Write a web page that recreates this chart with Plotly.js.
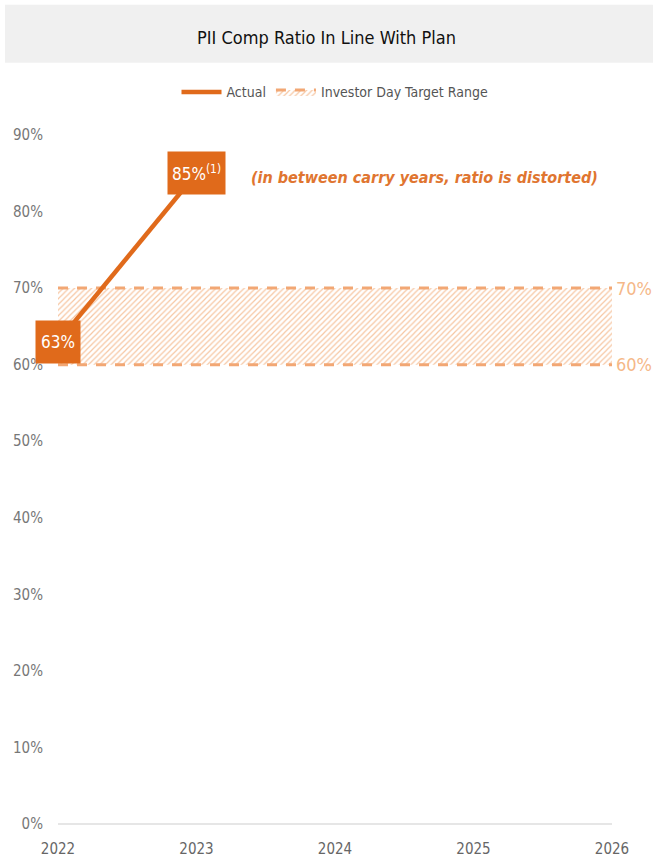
<!DOCTYPE html>
<html><head><meta charset="utf-8">
<script src="https://cdn.plot.ly/plotly-3.0.1.min.js"></script>
<style>html,body{margin:0;padding:0;background:#fff}#chart{width:653px;height:867px}</style>
</head><body><div id="chart"></div>
<script>
const chartTitle = 'PII Comp Ratio In Line With Plan';
const years = [2022, 2023, 2024, 2025, 2026];
const yTicks = [0, 10, 20, 30, 40, 50, 60, 70, 80, 90];
const actualYears = [2022, 2023];
const actualValues = [63, 85];
const actualLabels = ['63%', '85%<sup>(1)</sup>'];
const targetLow = [60, 60, 60, 60, 60];
const targetHigh = [70, 70, 70, 70, 70];
const noteText = '<b><i>(in between carry years, ratio is distorted)</i></b>';

const FONT = 'DejaVu Sans Condensed, Liberation Sans, sans-serif';
const ORANGE = '#E06A1B';
const BAND = '#F2A774';

const traces = [
  {x: years, y: targetLow, mode: 'lines', line: {color: BAND, width: 3, dash: '10px,9px'}, showlegend: false, hoverinfo: 'skip'},
  {x: years, y: targetHigh, mode: 'lines', fill: 'tonexty', fillcolor: 'rgba(0,0,0,0)',
   fillpattern: {shape: '/', fgcolor: '#F6C6A2', bgcolor: 'rgba(255,255,255,0)', size: 4, solidity: 0.3},
   line: {color: BAND, width: 3, dash: '10px,9px'}, name: 'Investor Day Target Range', hoverinfo: 'skip'},
  {x: actualYears, y: actualValues, mode: 'lines', line: {color: ORANGE, width: 4.5}, name: 'Actual'}
];

const boxWidths = [36, 49];
const annotations = [];
actualYears.forEach((yr, i) => {
  annotations.push({x: yr, y: actualValues[i], xref: 'x', yref: 'y', text: actualLabels[i], showarrow: false,
    bgcolor: ORANGE, borderpad: 4, width: boxWidths[i], height: 34, align: 'center', valign: 'middle',
    font: {family: FONT, size: 17, color: '#fff'}});
});
annotations.push({x: 2026, y: targetHigh[4], xref: 'x', yref: 'y', text: targetHigh[4] + '%', showarrow: false, xanchor: 'left', xshift: 2,
  font: {family: FONT, size: 18, color: '#F5B888'}});
annotations.push({x: 2026, y: targetLow[4], xref: 'x', yref: 'y', text: targetLow[4] + '%', showarrow: false, xanchor: 'left', xshift: 2,
  font: {family: FONT, size: 18, color: '#F5B888'}});
annotations.push({x: 2023.38, y: 85, xref: 'x', yref: 'y', text: noteText, showarrow: false, xanchor: 'left', yanchor: 'middle', yshift: -4,
  font: {family: FONT, size: 16, color: '#E07530'}});

const layout = {
  width: 653, height: 867,
  margin: {l: 58, r: 41, t: 135, b: 43},
  paper_bgcolor: '#fff', plot_bgcolor: '#fff',
  title: {text: chartTitle, x: 0.5, xanchor: 'center', y: 0.957, yanchor: 'middle', font: {family: FONT, size: 18, color: '#111'}},
  shapes: [{type: 'rect', xref: 'paper', yref: 'paper', x0: -0.0957, x1: 1.074, y0: 1.105, y1: 1.189, fillcolor: '#F0F0F0', line: {width: 0}, layer: 'below'}],
  legend: {orientation: 'h', x: 0.5, xanchor: 'center', y: 1.062, yanchor: 'middle', font: {family: FONT, size: 14, color: '#555'}, itemwidth: 40, traceorder: 'reversed'},
  xaxis: {range: [2022, 2026], tickvals: years, ticktext: years.map(String), showgrid: false, zeroline: false, showline: false,
    ticks: '', ticklabelstandoff: 14, tickfont: {family: FONT, size: 15, color: '#666'}, fixedrange: true},
  yaxis: {range: [0, 90], tickvals: yTicks, ticktext: yTicks.map(v => v + '%'), showgrid: false, zeroline: true, zerolinecolor: '#E6E6E6', zerolinewidth: 2,
    showline: false, ticks: '', ticklabelstandoff: 14, tickfont: {family: FONT, size: 15, color: '#777'}, fixedrange: true},
  annotations: annotations,
  showlegend: true
};
Plotly.newPlot('chart', traces, layout, {displayModeBar: false, staticPlot: true});
</script></body></html>
